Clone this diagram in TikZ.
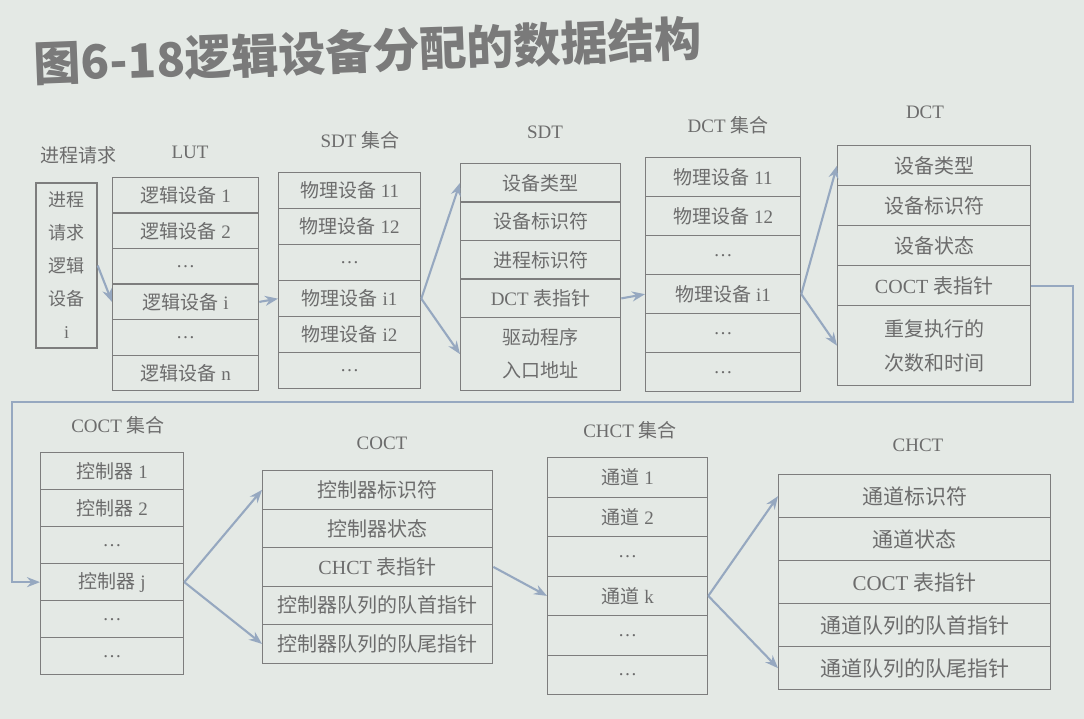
\documentclass[tikz,border=0pt]{standalone}
\usepackage{fontspec}
\setmainfont{Liberation Serif}
\newfontfamily\cjk{Noto Sans CJK SC}
\usetikzlibrary{arrows.meta}
\definecolor{bg}{RGB}{228,233,229}
\definecolor{tc}{RGB}{108,108,108}
\definecolor{lc}{RGB}{125,125,125}
\definecolor{ac}{RGB}{150,168,192}
\definecolor{ttl}{RGB}{122,122,122}
\newcommand\zh[1]{{\cjk #1}}
\begin{document}
\begin{tikzpicture}[x=1pt,y=-1pt,
  cell/.style={draw=lc, line width=1.3pt, anchor=north west, inner sep=0pt, align=center, text=tc, font=\fontsize{19}{24}\selectfont},
  lbl/.style={text=tc, font=\fontsize{19}{21}\selectfont},
  arr/.style={draw=ac, line width=2.1pt, -{Stealth[length=13pt,width=10pt]}}]
\fill[bg] (0,0) rectangle (1084,719);
\useasboundingbox (0,0) rectangle (1084,719);
% title
\node[font=\cjk\bfseries\fontsize{47}{52}\selectfont, text=ttl, anchor=west, rotate=2.2, inner sep=0pt] (title) at (34,64) {图6-18逻辑设备分配的数据结构};
% labels
\node[lbl] (lproc) at (78,155) {\zh{进程请求}};
\node[lbl] (llut) at (190,152) {LUT};
\node[lbl] (lsdtset) at (360,140) {SDT \zh{集合}};
\node[lbl] (lsdt) at (545,132) {SDT};
\node[lbl] (ldctset) at (728,125) {DCT \zh{集合}};
\node[lbl] (ldct) at (925,112) {DCT};
\node[lbl] (lcocset) at (118,425) {COCT \zh{集合}};
\node[lbl] (lcoct) at (382,443) {COCT};
\node[lbl] (lchset) at (630,430) {CHCT \zh{集合}};
\node[lbl] (lchct) at (918,445) {CHCT};
% process request
\node[cell, anchor=center, minimum width=61pt, minimum height=165pt, font=\fontsize{18}{33}\selectfont] (proc) at (66.5,265.5) {\zh{进程}\\\zh{请求}\\\zh{逻辑}\\\zh{设备}\\i};
% LUT
\foreach \t [count=\i] in {{\zh{逻辑设备} 1},{\zh{逻辑设备} 2},{…},{\zh{逻辑设备} i},{…},{\zh{逻辑设备} n}}
  \node[cell, minimum width=146pt, minimum height=35.5pt] (lut\i) at (112,{177+(\i-1)*35.5}) {\t};
% SDT set
\foreach \t [count=\i] in {{\zh{物理设备} 11},{\zh{物理设备} 12},{…},{\zh{物理设备} i1},{\zh{物理设备} i2},{…}}
  \node[cell, minimum width=142pt, minimum height=36pt] (sdtset\i) at (278,{172+(\i-1)*36}) {\t};
% SDT
\foreach \t [count=\i] in {{\zh{设备类型}},{\zh{设备标识符}},{\zh{进程标识符}},{DCT \zh{表指针}}}
  \node[cell, minimum width=160pt, minimum height=38.5pt] (sdt\i) at (460,{163+(\i-1)*38.5}) {\t};
\node[cell, minimum width=160pt, minimum height=73pt, font=\fontsize{19}{33}\selectfont] (sdt5) at (460,317) {\zh{驱动程序}\\\zh{入口地址}};
% DCT set
\foreach \t [count=\i] in {{\zh{物理设备} 11},{\zh{物理设备} 12},{…},{\zh{物理设备} i1},{…},{…}}
  \node[cell, minimum width=155pt, minimum height=39pt] (dctset\i) at (645,{157+(\i-1)*39}) {\t};
% DCT
\foreach \t [count=\i] in {{\zh{设备类型}},{\zh{设备标识符}},{\zh{设备状态}},{COCT \zh{表指针}}}
  \node[cell, minimum width=193pt, minimum height=40pt, font=\fontsize{20}{24}\selectfont] (dct\i) at (837,{145+(\i-1)*40}) {\t};
\node[cell, minimum width=193pt, minimum height=80pt, font=\fontsize{20}{34}\selectfont] (dct5) at (837,305) {\zh{重复执行的}\\\zh{次数和时间}};
% COCT set
\foreach \t [count=\i] in {{\zh{控制器} 1},{\zh{控制器} 2},{…},{\zh{控制器} j},{…},{…}}
  \node[cell, minimum width=143pt, minimum height=37pt] (cocset\i) at (40,{452+(\i-1)*37}) {\t};
% COCT
\foreach \t [count=\i] in {{\zh{控制器标识符}},{\zh{控制器状态}},{CHCT \zh{表指针}},{\zh{控制器队列的队首指针}},{\zh{控制器队列的队尾指针}}}
  \node[cell, minimum width=230pt, minimum height=38.5pt, font=\fontsize{20}{24}\selectfont] (coct\i) at (262,{470+(\i-1)*38.5}) {\t};
% CHCT set
\foreach \t [count=\i] in {{\zh{通道} 1},{\zh{通道} 2},{…},{\zh{通道} k},{…},{…}}
  \node[cell, minimum width=160pt, minimum height=39.5pt] (chset\i) at (547,{457+(\i-1)*39.5}) {\t};
% CHCT
\foreach \t [count=\i] in {{\zh{通道标识符}},{\zh{通道状态}},{COCT \zh{表指针}},{\zh{通道队列的队首指针}},{\zh{通道队列的队尾指针}}}
  \node[cell, minimum width=272pt, minimum height=43pt, font=\fontsize{21}{24}\selectfont] (chct\i) at (778,{474+(\i-1)*43}) {\t};
% arrows
\draw[arr] (proc.east) -- (lut4.west);
\draw[arr] (lut4.east) -- (sdtset4.west);
\draw[arr] (sdtset4.east) -- (sdt1.west);
\draw[arr] (sdtset4.east) -- (sdt5.west);
\draw[arr] (sdt4.east) -- (dctset4.west);
\draw[arr] (dctset4.east) -- (dct1.west);
\draw[arr] (dctset4.east) -- (dct5.west);
\draw[arr] (dct4.east) -- ++(42,0) |- (12,402) |- (cocset4.west);
\draw[arr] (cocset4.east) -- (coct1.west);
\draw[arr] (cocset4.east) -- (coct5.west);
\draw[arr] (coct3.east) -- (chset4.west);
\draw[arr] (chset4.east) -- (chct1.west);
\draw[arr] (chset4.east) -- (chct5.west);
\end{tikzpicture}
\end{document}
